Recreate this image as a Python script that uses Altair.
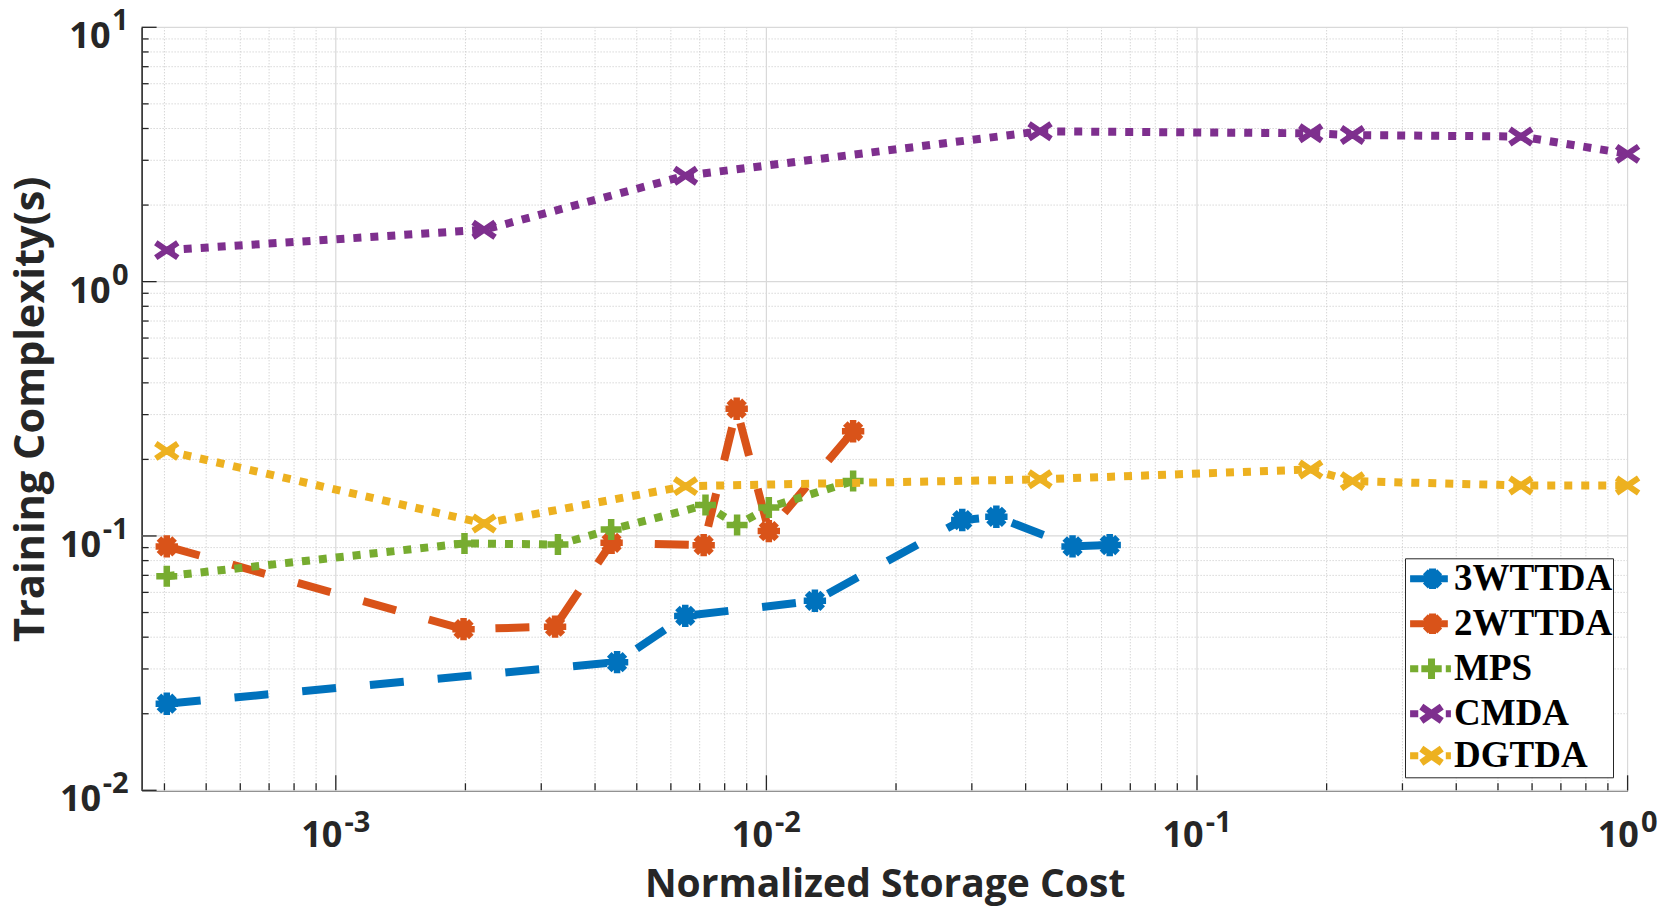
import math

import altair as alt
import pandas as pd

# ---- series data (normalized storage cost vs. training time in seconds) ----
SERIES = ["3WTTDA", "2WTTDA", "MPS", "CMDA", "DGTDA"]
COLORS = ["#0072BD", "#D95319", "#77AC30", "#7E2F8E", "#EDB120"]

cost_3wttda = [4.05e-4, 4.5e-3, 6.48e-3, 0.01296, 0.0285, 0.0342, 0.0514, 0.0627]
time_3wttda = [0.0219, 0.0319, 0.0485, 0.0556, 0.1155, 0.119, 0.0910, 0.0921]

cost_2wttda = [4.05e-4, 1.98e-3, 3.23e-3, 4.37e-3, 7.15e-3, 8.53e-3, 0.01013, 0.0159]
time_2wttda = [0.0910, 0.0430, 0.0440, 0.0940, 0.0920, 0.3165, 0.1045, 0.258]

cost_mps = [4.05e-4, 1.99e-3, 3.28e-3, 4.36e-3, 7.22e-3, 8.55e-3, 0.01013, 0.0159]
time_mps = [0.0695, 0.0935, 0.0925, 0.1060, 0.1323, 0.1104, 0.1295, 0.1644]

cost_cmda = [4.05e-4, 2.21e-3, 6.49e-3, 0.0432, 0.1837, 0.2296, 0.565, 1.0]
time_cmda = [1.33, 1.60, 2.61, 3.90, 3.83, 3.77, 3.72, 3.18]

cost_dgtda = [4.05e-4, 2.21e-3, 6.49e-3, 0.0432, 0.1837, 0.2296, 0.565, 1.0]
time_dgtda = [0.216, 0.112, 0.157, 0.167, 0.1826, 0.1643, 0.158, 0.158]

COSTS = [cost_3wttda, cost_2wttda, cost_mps, cost_cmda, cost_dgtda]
TIMES = [time_3wttda, time_2wttda, time_mps, time_cmda, time_dgtda]

# ---- axes ----
X_DOMAIN = [3.54e-4, 1.0]
Y_DOMAIN = [1e-2, 10.0]
X_MAJOR = [1e-3, 1e-2, 1e-1, 1.0]
Y_MAJOR = [1e-2, 1e-1, 1.0, 10.0]
X_MINOR = [k * 10.0 ** d for d in (-4, -3, -2, -1) for k in range(2, 10)
           if X_DOMAIN[0] <= k * 10.0 ** d <= X_DOMAIN[1]]
Y_MINOR = [k * 10.0 ** d for d in (-2, -1, 0) for k in range(2, 10)]

W, H = 1486, 763
AXIS_COLOR = "#262626"
SANS = "Open Sans"
SERIF = "Liberation Serif"
BASE_FS = 36      # the "10" of a power-of-ten label
EXP_FS = 29       # its exponent
ADV = {"-": 0.322, "0": 0.572, "1": 0.572, "2": 0.572, "3": 0.572}
BASE_ADV = 2 * 0.572 * BASE_FS

xs = alt.Scale(type="log", domain=X_DOMAIN, nice=False)
ys = alt.Scale(type="log", domain=Y_DOMAIN, nice=False)

x_axis = alt.Axis(values=X_MAJOR, labels=False, ticks=False, tickSize=0, grid=False,
                  domainColor=AXIS_COLOR, domainWidth=1.6, title="Normalized Storage Cost",
                  titleFont=SANS, titleFontWeight="bold", titleFontSize=39,
                  titleColor=AXIS_COLOR, titleBaseline="alphabetic", titleY=106)
y_axis = alt.Axis(values=Y_MAJOR, labels=False, ticks=False, tickSize=0, grid=False,
                  domainColor=AXIS_COLOR, domainWidth=1.6, title="Training Complexity(s)",
                  titleFont=SANS, titleFontWeight="bold", titleFontSize=41.5,
                  titleColor=AXIS_COLOR, titleBaseline="alphabetic", titleAngle=270,
                  titleAlign="center", titleX=-98, titleY=H / 2)


def X(field):
    return alt.X(field, type="quantitative", scale=xs, axis=x_axis)


def Y(field):
    return alt.Y(field, type="quantitative", scale=ys, axis=y_axis)


def exponent(v):
    return str(round(math.log10(v)))


def exp_width(e):
    return sum(ADV[c] for c in e) * EXP_FS


# ---- power-of-ten tick labels: "10" plus a raised exponent ----
label_layers = []
txt = dict(font=SANS, fontWeight="bold", color=AXIS_COLOR, baseline="alphabetic")
for v in X_MAJOR:
    e = exponent(v)
    total = BASE_ADV + 2 + exp_width(e)
    df = pd.DataFrame({"v": [v]})
    label_layers.append(alt.Chart(df).mark_text(
        text="10", align="left", dx=-total / 2, dy=57, fontSize=BASE_FS, **txt).encode(
        x=X("v"), y=alt.value(H)))
    label_layers.append(alt.Chart(df).mark_text(
        text=e, align="left", dx=-total / 2 + BASE_ADV + 2, dy=42, fontSize=EXP_FS, **txt).encode(
        x=X("v"), y=alt.value(H)))
for v in Y_MAJOR:
    e = exponent(v)
    df = pd.DataFrame({"v": [v]})
    label_layers.append(alt.Chart(df).mark_text(
        text="10", align="right", dx=-13 - exp_width(e) - 1.5, dy=21, fontSize=BASE_FS, **txt).encode(
        y=Y("v"), x=alt.value(0)))
    label_layers.append(alt.Chart(df).mark_text(
        text=e, align="right", dx=-13, dy=3, fontSize=EXP_FS, **txt).encode(
        y=Y("v"), x=alt.value(0)))

# line styles and marker glyphs per series
DASH = {"3WTTDA": [34, 34], "2WTTDA": [34, 34], "MPS": [8, 9], "CMDA": [8, 9], "DGTDA": [8, 9]}
ASTER = "M-1,0L1,0M0,-1L0,1M-0.7,-0.7L0.7,0.7M-0.7,0.7L0.7,-0.7"
PLUS = "M-1,0L1,0M0,-1L0,1"
XMARK = "M-1,-0.68L1,0.68M-1,0.68L1,-0.68"
MARK = {"3WTTDA": (ASTER, 500, 6.5), "2WTTDA": (ASTER, 500, 6.5), "MPS": (PLUS, 441, 6.5),
        "CMDA": (XMARK, 484, 6), "DGTDA": (XMARK, 484, 6)}


def scaled_path(cmds, k=1.2):
    """Path in legend units, stretched so the line sample spans the symbol box."""
    return "".join(f"{op}{x * k:.3f},{y * k:.3f}" for op, x, y in cmds)


# legend glyphs: short line sample with the marker in the middle
LEG_ASTER = scaled_path([("M", -1, 0), ("L", 0.85, 0), ("M", 0.1, -0.5), ("L", 0.1, 0.5),
                         ("M", -0.4, 0), ("L", 0.6, 0), ("M", -0.25, -0.35), ("L", 0.45, 0.35),
                         ("M", -0.25, 0.35), ("L", 0.45, -0.35)])
LEG_PLUS = scaled_path([("M", -1, 0), ("L", -0.6, 0), ("M", 0.75, 0), ("L", 1, 0),
                        ("M", -0.45, 0), ("L", 0.55, 0), ("M", 0.05, -0.5), ("L", 0.05, 0.5)])
LEG_X = scaled_path([("M", -1, 0), ("L", -0.6, 0), ("M", 0.75, 0), ("L", 1, 0),
                     ("M", -0.45, -0.35), ("L", 0.55, 0.35), ("M", -0.45, 0.35), ("L", 0.55, -0.35)])
LEG_SHAPES = [LEG_ASTER, LEG_ASTER, LEG_PLUS, LEG_X, LEG_X]

# ---- grid & tick layers ----
minor_x = pd.DataFrame({"v": X_MINOR})
minor_y = pd.DataFrame({"v": Y_MINOR})
major_x = pd.DataFrame({"v": X_MAJOR})
major_y = pd.DataFrame({"v": Y_MAJOR})

grid_minor_x = alt.Chart(minor_x).mark_rule(color="#c4c4c4", strokeWidth=1, strokeDash=[1, 2]).encode(
    x=X("v"))
grid_minor_y = alt.Chart(minor_y).mark_rule(color="#c4c4c4", strokeWidth=1, strokeDash=[1, 2]).encode(
    y=Y("v"))
grid_major_x = alt.Chart(major_x).mark_rule(color="#d9d9d9", strokeWidth=1.2).encode(x=X("v"))
grid_major_y = alt.Chart(major_y).mark_rule(color="#d9d9d9", strokeWidth=1.2).encode(y=Y("v"))

tick_minor_x = alt.Chart(minor_x).mark_rule(color=AXIS_COLOR, strokeWidth=1.3).encode(
    x=X("v"), y=alt.value(H), y2=alt.value(H - 7))
tick_major_x = alt.Chart(major_x).mark_rule(color=AXIS_COLOR, strokeWidth=1.3).encode(
    x=X("v"), y=alt.value(H), y2=alt.value(H - 15))
tick_minor_y = alt.Chart(minor_y).mark_rule(color=AXIS_COLOR, strokeWidth=1.3).encode(
    y=Y("v"), x=alt.value(0), x2=alt.value(7))
tick_major_y = alt.Chart(major_y).mark_rule(color=AXIS_COLOR, strokeWidth=1.3).encode(
    y=Y("v"), x=alt.value(0), x2=alt.value(15))

# ---- series layers: each line followed by its markers ----
series_layers = []
for name, color, cost, t in zip(SERIES, COLORS, COSTS, TIMES):
    df = pd.DataFrame({"cost": cost, "time": t, "i": list(range(len(cost)))})
    line = alt.Chart(df).mark_line(color=color, strokeWidth=8, strokeDash=DASH[name],
                                   strokeCap="butt", strokeJoin="miter").encode(
        x=X("cost"), y=Y("time"), order="i:Q")
    shape, size, sw = MARK[name]
    pts = alt.Chart(df).mark_point(shape=shape, size=size, filled=False, strokeWidth=sw,
                                   color=color, opacity=1, strokeCap="butt").encode(
        x=X("cost"), y=Y("time"))
    series_layers += [line, pts]

# ---- legend (built from the color/shape scales only) ----
legend_df = pd.DataFrame({"series": SERIES, "cost": [c[0] for c in COSTS], "time": [t[0] for t in TIMES]})
legend = alt.Legend(title=None, orient="none", legendX=1263.4, legendY=531, fillColor="white",
                    strokeColor=AXIS_COLOR, padding=0, rowPadding=-5, symbolSize=1156,
                    symbolStrokeWidth=7, symbolOpacity=1, symbolOffset=5, labelOffset=3,
                    labelFont=SERIF, labelFontWeight="bold", labelFontSize=37, labelColor="black",
                    labelLimit=0, cornerRadius=0, labelExpr="datum.label + '\u2009'")
legend_layer = alt.Chart(legend_df).transform_filter("false").mark_point(
    filled=False, opacity=1, strokeCap="butt").encode(
    x=X("cost"), y=Y("time"),
    color=alt.Color("series:N", scale=alt.Scale(domain=SERIES, range=COLORS), legend=legend,
                    sort=SERIES),
    shape=alt.Shape("series:N", scale=alt.Scale(domain=SERIES, range=LEG_SHAPES), legend=legend,
                    sort=SERIES))

chart = alt.layer(
    grid_minor_x, grid_minor_y, grid_major_x, grid_major_y,
    tick_minor_x, tick_major_x, tick_minor_y, tick_major_y,
    *label_layers, *series_layers, legend_layer,
).properties(
    width=W, height=H,
    autosize=alt.AutoSizeParams(type="none"),
    padding={"left": 141.6, "top": 27.3, "right": 1669 - 141.6 - W, "bottom": 918 - 27.3 - H},
    background="white",
).configure_view(stroke=None)

chart.save("out.html", embed_options={"renderer": "svg", "actions": False})
